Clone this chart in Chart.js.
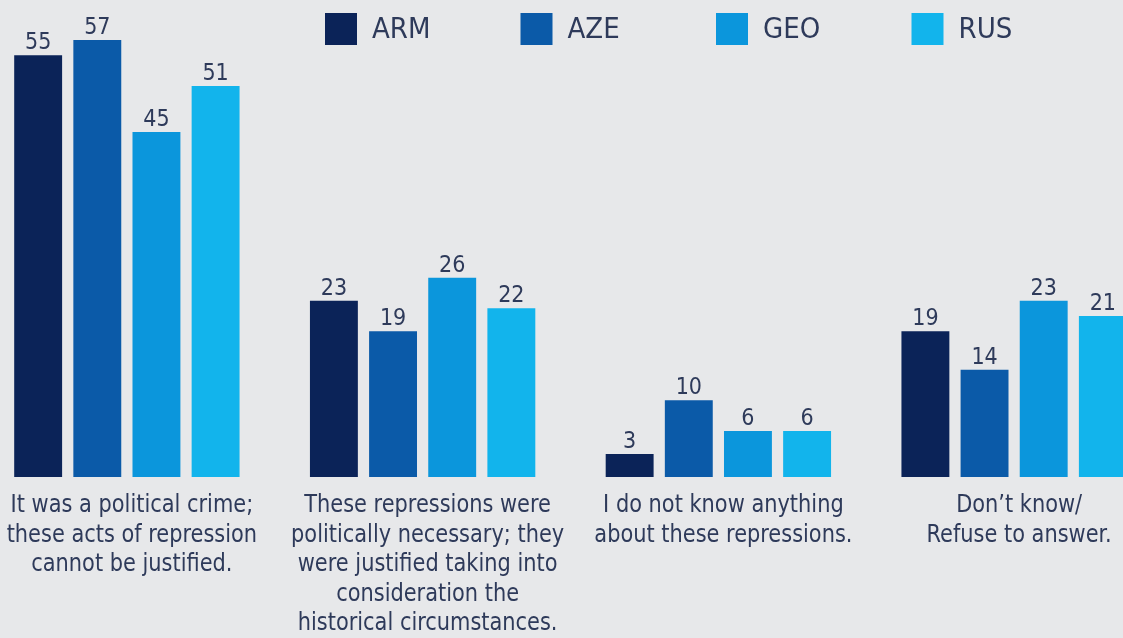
<!DOCTYPE html>
<html>
<head>
<meta charset="utf-8">
<script src="https://cdn.jsdelivr.net/npm/chart.js@4.4.1/dist/chart.umd.min.js"></script>
<style>
  html, body { margin: 0; padding: 0; width: 1123px; height: 638px; overflow: hidden; background: #e7e8ea; }
  #wrap { position: absolute; left: -21px; top: 0; width: 1183px; height: 638px; }
</style>
</head>
<body>
<div id="wrap"><canvas id="c"></canvas></div>
<script>
const categories = [
  ["It was a political crime;", "these acts of repression", "cannot be justified."],
  ["These repressions were", "politically necessary; they", "were justified taking into", "consideration the", "historical circumstances."],
  ["I do not know anything", "about these repressions."],
  ["Don\u2019t know/", "Refuse to answer."]
];
const seriesNames = ["ARM", "AZE", "GEO", "RUS"];
const ARM = [55, 23, 3, 19];
const AZE = [57, 19, 10, 14];
const GEO = [45, 26, 6, 23];
const RUS = [51, 22, 6, 21];
const colors = ["#0b2358", "#0b5aa8", "#0b96dc", "#12b4ec"];
const textColor = "#2e3a5a";
const FONT = "'Liberation Sans Narrow', 'DejaVu Sans Condensed', sans-serif";

const valuesBySeries = [ARM, AZE, GEO, RUS];

const valueLabels = {
  id: 'valueLabels',
  afterDatasetsDraw(chart) {
    const ctx = chart.ctx;
    ctx.save();
    ctx.fillStyle = textColor;
    ctx.font = "23px " + FONT;
    ctx.textAlign = 'center';
    ctx.textBaseline = 'alphabetic';
    chart.data.datasets.forEach((ds, di) => {
      const meta = chart.getDatasetMeta(di);
      meta.data.forEach((el, i) => {
        ctx.fillText(String(ds.data[i]), el.x, el.y - 6);
      });
    });
    ctx.restore();
  }
};

const catLabels = {
  id: 'catLabels',
  afterDraw(chart) {
    const ctx = chart.ctx;
    const xs = chart.scales.x;
    const base = chart.scales.y.getPixelForValue(0);
    ctx.save();
    ctx.fillStyle = textColor;
    ctx.font = "25px " + FONT;
    ctx.textAlign = 'center';
    ctx.textBaseline = 'alphabetic';
    categories.forEach((lines, i) => {
      const x = xs.getPixelForValue(i) + 5;
      lines.forEach((ln, k) => {
        ctx.save();
        ctx.translate(x, base + 35 + k * 29.5);
        ctx.scale(0.93, 1);
        ctx.fillText(ln, 0, 0);
        ctx.restore();
      });
    });
    ctx.restore();
  }
};

const customLegend = {
  id: 'customLegend',
  afterDraw(chart) {
    const ctx = chart.ctx;
    const startX = 346, step = 195.5, box = 32, top = 13;
    ctx.save();
    ctx.font = "29px " + FONT;
    ctx.textBaseline = 'middle';
    ctx.textAlign = 'left';
    chart.data.datasets.forEach((ds, i) => {
      const x = startX + i * step;
      ctx.fillStyle = ds.backgroundColor;
      ctx.fillRect(x, top, box, box);
      ctx.fillStyle = textColor;
      ctx.fillText(ds.label, x + box + 15, top + box / 2 + 1);
    });
    ctx.restore();
  }
};

new Chart(document.getElementById('c'), {
  type: 'bar',
  data: {
    labels: categories.map(c => c.join(' ')),
    datasets: seriesNames.map((n, i) => ({
      label: n,
      data: valuesBySeries[i],
      backgroundColor: colors[i],
      borderWidth: 0,
      categoryPercentage: 0.8,
      barPercentage: 0.81
    }))
  },
  options: {
    responsive: true,
    maintainAspectRatio: false,
    animation: false,
    layout: { padding: { top: 17, bottom: 161, left: 0, right: 0 } },
    plugins: { legend: { display: false }, tooltip: { enabled: false } },
    scales: {
      x: { display: false },
      y: { display: false, min: 0, max: 60 }
    }
  },
  plugins: [valueLabels, catLabels, customLegend]
});
</script>
</body>
</html>
